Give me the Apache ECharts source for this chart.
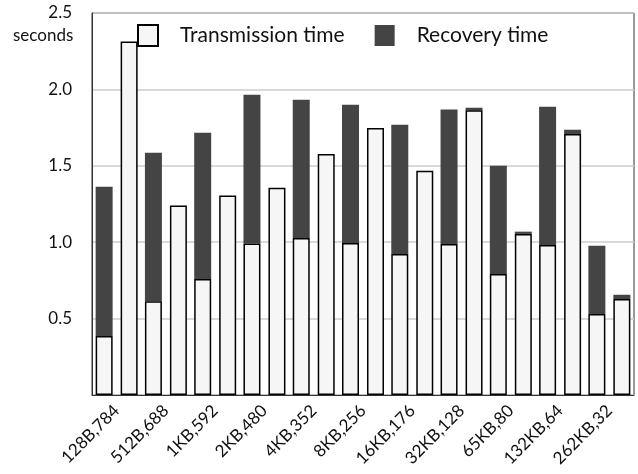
<!DOCTYPE html>
<html>
<head>
<meta charset="utf-8">
<script src="https://cdn.jsdelivr.net/npm/echarts@6/dist/echarts.min.js"></script>
<style>html,body{margin:0;padding:0;background:#fff;}#c{width:638px;height:474px;}</style>
</head>
<body>
<div id="c"></div>
<script>
var categories = ['128B,784','512B,688','1KB,592','2KB,480','4KB,352','8KB,256','16KB,176','32KB,128','65KB,80','132KB,64','262KB,32'];
var transmissionA = [0.386, 0.613, 0.759, 0.992, 1.027, 0.995, 0.923, 0.988, 0.792, 0.982, 0.530];
var recoveryA     = [0.977, 0.973, 0.958, 0.973, 0.906, 0.905, 0.846, 0.880, 0.709, 0.905, 0.447];
var transmissionB = [2.314, 1.241, 1.306, 1.357, 1.577, 1.747, 1.468, 1.863, 1.054, 1.708, 0.628];
var recoveryB     = [0, 0, 0, 0, 0, 0, 0, 0.017, 0.015, 0.028, 0.028];
var yTicks = [0.5, 1.0, 1.5, 2.0, 2.5];

var FONT = 'Lato';
var lightStyle = { color: '#f6f6f6', borderColor: '#000', borderWidth: 1.5 };
var darkStyle = { color: '#444444', borderWidth: 0 };

var chart = echarts.init(document.getElementById('c'));
chart.setOption({
  animation: false,
  textStyle: { fontFamily: FONT },
  title: {
    text: 'seconds', left: 13, top: 27, padding: 0,
    textStyle: { fontFamily: FONT, fontSize: 17, fontWeight: 'normal', color: '#111' }
  },
  grid: { left: 92, right: 4, top: 13, bottom: 79, show: true, borderColor: '#333', borderWidth: 1, outerBoundsMode: 'none', containLabel: false },
  legend: {
    data: ['Transmission time', 'Recovery time'],
    left: 137, top: 24, padding: 0,
    icon: 'rect', itemWidth: 20, itemHeight: 21, itemGap: 30,
    textStyle: { fontFamily: FONT, fontSize: 21, color: '#111', padding: [0, 0, 0, 17] }
  },
  xAxis: {
    type: 'category',
    data: categories,
    axisLine: { show: true, lineStyle: { color: '#333', width: 1 } },
    axisTick: { show: false },
    axisLabel: { rotate: 45, interval: 0, margin: 13, fontFamily: FONT, fontSize: 17, color: '#111' }
  },
  yAxis: {
    type: 'value', min: 0, max: 2.5, interval: 0.5,
    axisLine: { show: true, lineStyle: { color: '#333', width: 1 } },
    axisTick: { show: false },
    splitLine: { lineStyle: { color: '#cccccc', width: 1.5 } },
    axisLabel: {
      margin: 20, fontFamily: FONT, fontSize: 17, color: '#111',
      formatter: function (v) { return yTicks.indexOf(v) >= 0 ? v.toFixed(1) : ''; }
    }
  },
  series: [
    { name: 'Transmission time', type: 'bar', stack: 'A', data: transmissionA, barWidth: 17, barGap: '47%', itemStyle: lightStyle, z: 3 },
    { name: 'Recovery time', type: 'bar', stack: 'A', data: recoveryA, barWidth: 17, barGap: '47%', itemStyle: darkStyle, z: 2 },
    { name: 'Transmission time', type: 'bar', stack: 'B', data: transmissionB, barWidth: 17, barGap: '47%', itemStyle: lightStyle, z: 3 },
    { name: 'Recovery time', type: 'bar', stack: 'B', data: recoveryB, barWidth: 17, barGap: '47%', itemStyle: darkStyle, z: 2 }
  ]
});
</script>
</body>
</html>
